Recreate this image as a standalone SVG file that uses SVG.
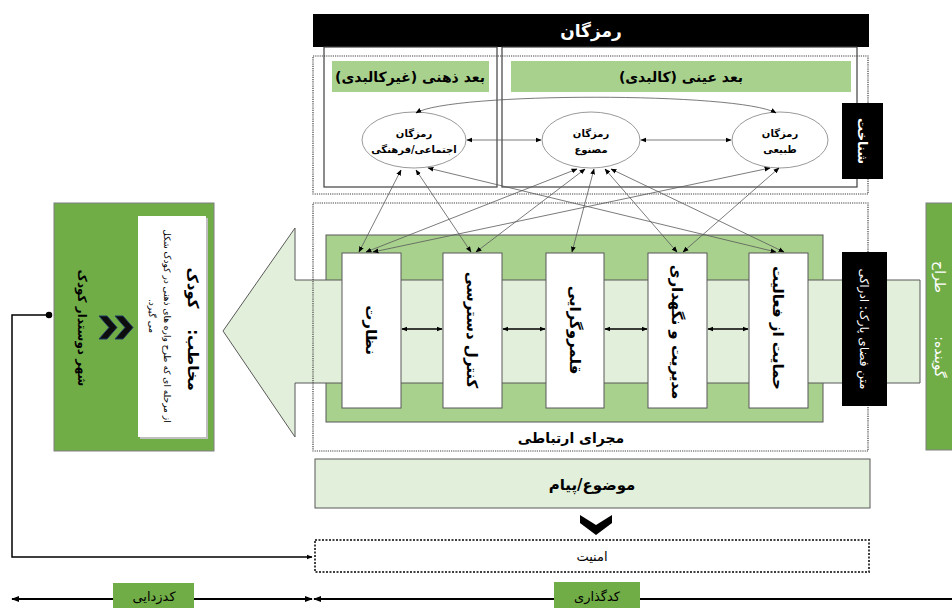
<svg xmlns="http://www.w3.org/2000/svg" width="952" height="608" viewBox="0 0 952 608">
<defs>
<style>
.t{font-family:"DejaVu Sans",sans-serif;direction:rtl;unicode-bidi:embed;text-anchor:middle;dominant-baseline:central;fill:#000}
.b{font-weight:bold}
.w{fill:#fff}
.dot{fill:none;stroke:#404040;stroke-width:1.2;stroke-dasharray:1.2 1}
.solid{fill:none;stroke:#404040;stroke-width:1.2}
.lg{fill:#a9d18e}
.dg{fill:#70ad47;stroke:#7f7f7f;stroke-width:1}
.pale{fill:#e2efda;stroke:#595959;stroke-width:1}
.wbox{fill:#fff;stroke:#595959;stroke-width:1}
.ell{fill:#fff;stroke:#7f7f7f;stroke-width:0.8}
.blk{fill:#000}
</style>
<marker id="ah" viewBox="0 0 10 10" refX="9" refY="5" markerWidth="6" markerHeight="6" markerUnits="userSpaceOnUse" orient="auto-start-reverse"><path d="M0,1 L10,5 L0,9 z" fill="#000"/></marker>
<marker id="ahb" viewBox="0 0 10 10" refX="9" refY="5" markerWidth="8" markerHeight="8" markerUnits="userSpaceOnUse" orient="auto-start-reverse"><path d="M0,1 L10,5 L0,9 z" fill="#000"/></marker>
</defs>
<rect width="952" height="608" fill="#fff"/>

<!-- top section -->
<g id="ramzgan-bar">
<rect x="313" y="14" width="556" height="33" class="blk"/>
<text x="591" y="31" class="t b w" font-size="17">رمزگان</text>
</g>
<g id="shenakht-area">
<rect x="313" y="56" width="555" height="138" class="dot"/>
</g>
<g id="zehni">
<rect x="324" y="47" width="173" height="140" class="solid"/>
<rect x="332" y="61" width="157" height="31" class="lg"/>
<text x="410" y="77" class="t b" font-size="14">بعد ذهنی (غیرکالبدی)</text>
</g>
<g id="eyni">
<rect x="502" y="47" width="355" height="140" class="solid"/>
<rect x="511" y="61" width="340" height="31" class="lg"/>
<text x="681" y="77" class="t b" font-size="14">بعد عینی (کالبدی)</text>
</g>
<g id="shenakht">
<rect x="842" y="103" width="41" height="76" class="blk"/>
<text x="862" y="141" class="t b w" font-size="13" transform="rotate(90 862 141)">شناخت</text>
</g>
<g id="ellipse-ejtemaei">
<ellipse cx="414" cy="140" rx="52" ry="28" class="ell"/>
<text x="414" y="133" class="t b" font-size="10">رمزگان</text>
<text x="414" y="149" class="t b" font-size="10">اجتماعی/فرهنگی</text>
</g>
<g id="ellipse-masnoo">
<ellipse cx="591" cy="140" rx="49" ry="28" class="ell"/>
<text x="591" y="133" class="t b" font-size="10">رمزگان</text>
<text x="591" y="149" class="t b" font-size="10">مصنوع</text>
</g>
<g id="ellipse-tabiei">
<ellipse cx="780" cy="140" rx="48" ry="28" class="ell"/>
<text x="780" y="133" class="t b" font-size="10">رمزگان</text>
<text x="780" y="149" class="t b" font-size="10">طبیعی</text>
</g>

<!-- channel -->
<g id="channel">
<rect x="326" y="235" width="497" height="187" class="lg" stroke="#595959" stroke-width="1"/>
<polygon points="920,280 295,280 295,228 223,331 295,437 295,383 920,383" class="pale"/>
<rect x="313" y="203" width="555" height="248" class="dot"/>
<text x="571" y="438" class="t b" font-size="14">مجرای ارتباطی</text>
</g>
<g id="box-nezarat">
<rect x="342" y="253" width="59" height="155" class="wbox"/>
<text x="371" y="330" class="t b" font-size="15" transform="rotate(90 371 330)">نظارت</text>
</g>
<g id="box-control">
<rect x="443" y="253" width="59" height="155" class="wbox"/>
<text x="472" y="330" class="t b" font-size="15" transform="rotate(90 472 330)">کنترل دسترسی</text>
</g>
<g id="box-ghalamro">
<rect x="546" y="253" width="58" height="155" class="wbox"/>
<text x="575" y="330" class="t b" font-size="15" transform="rotate(90 575 330)">قلمروگرایی</text>
</g>
<g id="box-modiriat">
<rect x="648" y="253" width="59" height="155" class="wbox"/>
<text x="677" y="332" class="t b" font-size="15" transform="rotate(90 677 332)">مدیریت و نگهداری</text>
</g>
<g id="box-hemayat">
<rect x="749" y="253" width="59" height="155" class="wbox"/>
<text x="778" y="328" class="t b" font-size="15" transform="rotate(90 778 328)">حمایت از فعالیت</text>
</g>
<g id="matn">
<rect x="842" y="252" width="45" height="154" class="blk"/>
<text x="864" y="329" class="t w" font-size="12" transform="rotate(90 864 329)">متن فضای پارک: ادراکی</text>
</g>

<!-- right speaker -->
<g id="goyande">
<rect x="926" y="203" width="40" height="247" class="dg"/>
<text x="940" y="277" class="t w" font-size="14" transform="rotate(90 940 277)">طراح</text>
<text x="940" y="357" class="t w" font-size="14" transform="rotate(90 940 357)">گوینده:</text>
</g>

<!-- left audience -->
<g id="mokhatab">
<rect x="54" y="203" width="160" height="248" class="dg"/>
<rect x="140" y="218" width="68" height="221" fill="#bfbfbf"/>
<rect x="138" y="216" width="68" height="221" fill="#fff"/>
<text x="193" y="288" class="t b" font-size="15" transform="rotate(90 193 288)">کودک</text>
<text x="193" y="360" class="t b" font-size="15" transform="rotate(90 193 360)">مخاطب:</text>
<text x="167" y="326" class="t" font-size="9" fill="#262626" transform="rotate(90 167 326)">از مرحله ای که طرح واره های ذهنی در کودک شکل</text>
<text x="152" y="316" class="t" font-size="9" fill="#262626" transform="rotate(90 152 316)">می گیرد.</text>
<polygon points="99,316 107,316 117,327.5 107,339 99,339 109,327.5" fill="#0d0d0d" stroke="#1f3864" stroke-width="1"/>
<polygon points="115,316 123,316 133,327.5 123,339 115,339 125,327.5" fill="#0d0d0d" stroke="#1f3864" stroke-width="1"/>
<text x="82" y="328" class="t b" font-size="12" transform="rotate(90 82 328)">شهر دوستدار کودک</text>
</g>

<!-- message & security -->
<g id="mozoo">
<rect x="315" y="459" width="555" height="49" class="pale"/>
<text x="592" y="485" class="t b" font-size="15">موضوع/پیام</text>
</g>
<g id="chevron-down">
<polygon points="580,515 596,525 612,515 612,523 596,535 580,523" fill="#000"/>
</g>
<g id="amniat">
<rect x="315" y="540" width="554" height="32" fill="none" stroke="#404040" stroke-width="2" stroke-dasharray="2 1.5"/>
<text x="592" y="556" class="t" font-size="13" fill="#404040">امنیت</text>
</g>

<g id="connectors">
<g fill="none" stroke="#595959" stroke-width="0.8" marker-start="url(#ah)" marker-end="url(#ah)">
<path d="M416,113 C450,92 740,92 776,113"/>
<line x1="467" y1="140" x2="541" y2="140"/>
<line x1="641" y1="140" x2="731" y2="140"/>
<line x1="401" y1="170" x2="359" y2="252"/>
<line x1="416" y1="170" x2="471" y2="252"/>
<line x1="428" y1="168" x2="776" y2="252"/>
<line x1="577" y1="169" x2="366" y2="252"/>
<line x1="585" y1="169" x2="476" y2="252"/>
<line x1="594" y1="169" x2="572" y2="252"/>
<line x1="605" y1="169" x2="677" y2="252"/>
<line x1="611" y1="169" x2="784" y2="252"/>
<line x1="770" y1="168" x2="373" y2="252"/>
<line x1="779" y1="168" x2="683" y2="252"/>
</g>
<g fill="none" stroke="#000" stroke-width="1.5" marker-start="url(#ah)" marker-end="url(#ah)">
<line x1="402" y1="329" x2="442" y2="329"/>
<line x1="503" y1="329" x2="545" y2="329"/>
<line x1="605" y1="329" x2="647" y2="329"/>
<line x1="708" y1="329" x2="748" y2="329"/>
</g>
<g fill="none" stroke="#000" stroke-width="1.5">
<polyline points="49,315 12,315 12,557 312,557" marker-end="url(#ah)"/>
<circle cx="49" cy="315" r="2.5" fill="#000"/>
</g>
<g fill="none" stroke="#000" stroke-width="2">
<line x1="12" y1="599" x2="312" y2="599" marker-start="url(#ahb)" marker-end="url(#ahb)"/>
<line x1="952" y1="599" x2="314" y2="599" marker-end="url(#ahb)"/>
</g>
</g>

<!-- bottom axis labels -->
<g id="label-decode">
<rect x="113" y="583" width="81" height="25" fill="#70ad47"/>
<text x="154" y="596" class="t" font-size="13" fill="#262626">کدزدایی</text>
</g>
<g id="label-encode">
<rect x="554" y="582" width="86" height="26" fill="#70ad47"/>
<text x="597" y="596" class="t" font-size="13" fill="#262626">کدگذاری</text>
</g>
</svg>
